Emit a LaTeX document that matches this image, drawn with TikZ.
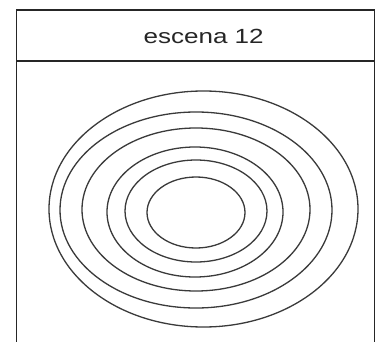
\documentclass[tikz,border=0pt]{standalone}
\usepackage{fontspec}
\setmainfont{Liberation Sans}
\usepackage{tikz}
\definecolor{marco}{HTML}{262626}
\definecolor{anillo}{HTML}{3A3A3A}

\begin{document}
\begin{tikzpicture}[x=1pt, y=-1pt]
        \useasboundingbox[fill=white] (0,0) rectangle (377,342);
        \clip (0,0) rectangle (377,342);

        % marco de la escena
        \draw[marco, line width=1.9pt] (16.5,10) rectangle (374.5,360);
        \draw[marco, line width=1.9pt] (16.5,61) -- (374.5,61);

        \node[
            inner sep=0pt,
            align=center
        ] (titulo) at (205,36) {
            \scalebox{1.27}[1]{\fontsize{20.5}{24}\selectfont\color{marco}escena 12}
        };

        % anillos
        \draw[anillo, line width=1.3pt] (196,212.5) ellipse [x radius=49, y radius=35.5];
        \draw[anillo, line width=1.3pt] (196,211) ellipse [x radius=71, y radius=51];
        \draw[anillo, line width=1.3pt] (195,212) ellipse [x radius=88, y radius=65];
        \draw[anillo, line width=1.3pt] (196,209.5) ellipse [x radius=114, y radius=81.5];
        \draw[anillo, line width=1.3pt] (196,210) ellipse [x radius=136, y radius=98];
        \draw[anillo, line width=1.3pt] (203.5,209) ellipse [x radius=154.5, y radius=118];
    \end{tikzpicture}
\end{document}
